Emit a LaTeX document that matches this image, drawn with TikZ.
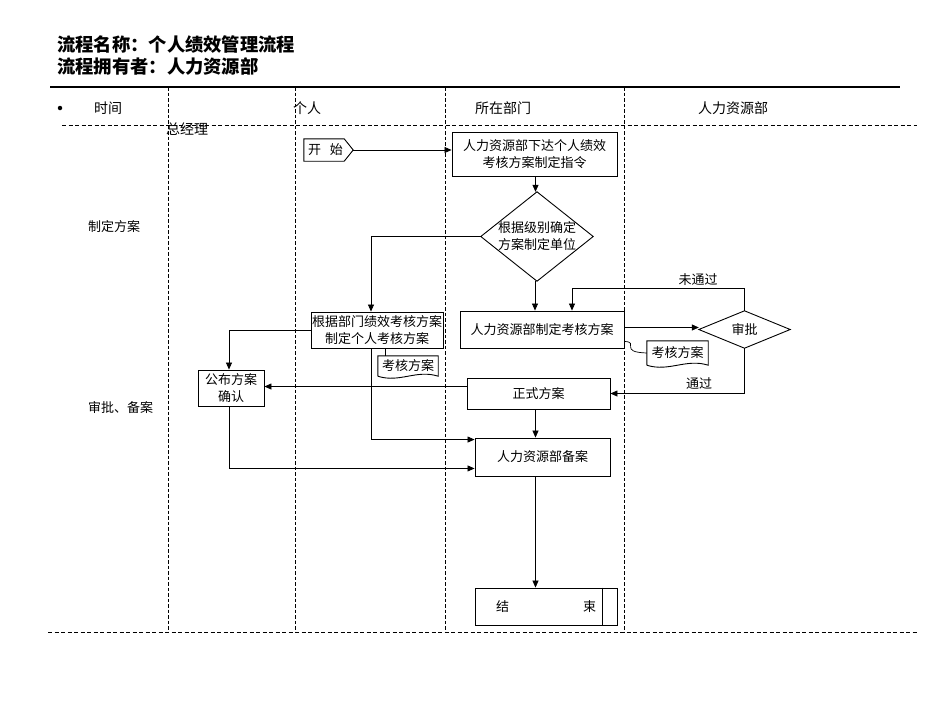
\documentclass[tikz,border=0pt]{standalone}
\usepackage{fontspec}
\setmainfont{Noto Sans CJK SC}
\usetikzlibrary{arrows.meta,calc}
\begin{document}
\begin{tikzpicture}[x=1pt,y=-1pt,
  box/.style={draw,line width=0.9pt,align=center,inner sep=0pt,font=\fontsize{13}{17}\selectfont},
  plain/.style={inner sep=0pt,align=center,font=\fontsize{13}{17}\selectfont},
  head/.style={inner sep=0pt,font=\fontsize{14}{16}\selectfont},
  side/.style={inner sep=0pt,anchor=west,font=\fontsize{13}{14}\selectfont},
  arr/.style={-{Triangle[length=7pt,width=6pt]},line width=0.7pt},
  ln/.style={line width=0.7pt},
  vdash/.style={dash pattern=on 3.5pt off 2pt,line width=0.7pt},
  hdash/.style={dash pattern=on 4pt off 2.5pt,line width=0.7pt}]
\useasboundingbox (0,0) rectangle (950,713);
% titles
\node[anchor=west,inner sep=0pt,font=\fontsize{18.3}{20}\selectfont\bfseries] (t1) at (57,45) {流程名称：个人绩效管理流程};
\node[anchor=west,inner sep=0pt,font=\fontsize{18.3}{20}\selectfont\bfseries] (t2) at (57,67) {流程拥有者：人力资源部};
\draw[line width=1.6pt] (50,87) -- (900,87);
% swimlane grid
\draw[vdash] (168,87) -- (168,632);
\draw[vdash] (295,87) -- (295,632);
\draw[vdash] (445,87) -- (445,632);
\draw[vdash] (624,87) -- (624,632);
\draw[hdash] (62,125) -- (917,125);
\draw[hdash] (48,632) -- (917,632);
% headers
\node[circle,fill,inner sep=0pt,minimum size=4.5pt] (bul) at (60,108) {};
\node[head] (h0) at (108,108) {时间};
\node[head] (h1) at (307,108) {个人};
\node[head] (h2) at (503,108) {所在部门};
\node[head] (h3) at (733,108) {人力资源部};
\node[head] (h4) at (187,129) {总经理};
\node[side] (s1) at (88,227) {制定方案};
\node[side] (s2) at (88,408) {审批、备案};
% start
\node[plain,minimum width=49pt,minimum height=22pt] (start) at (328.5,150) {开\hspace{9pt}始\hspace{6pt}};
\draw[line width=0.9pt] (start.north west) -- ([xshift=-9pt]start.north east) -- (start.east) -- ([xshift=-9pt]start.south east) -- (start.south west) -- cycle;
% boxes
\node[box,minimum width=165pt,minimum height=44pt] (b1) at (534.5,154) {人力资源部下达个人绩效\\考核方案制定指令};
\node[plain,minimum width=112pt,minimum height=89pt] (d1) at (537,236.5) {根据级别确定\\方案制定单位};
\draw[line width=0.9pt] (d1.north) -- (d1.east) -- (d1.south) -- (d1.west) -- cycle;
\node[box,minimum width=132pt,minimum height=36pt] (b2) at (377,330) {根据部门绩效考核方案\\制定个人考核方案};
\node[plain,minimum width=60pt,minimum height=20pt] (doc1) at (408,366) {考核方案};
\draw[line width=0.9pt] (doc1.south west) -- (doc1.north west) -- (doc1.north east) -- (doc1.south east)
  .. controls ([xshift=-22pt,yshift=7pt]doc1.south east) and ([xshift=22pt,yshift=-7pt]doc1.south west) .. (doc1.south west);
\node[box,minimum width=66pt,minimum height=36pt] (b4) at (231,388) {公布方案\\确认};
\node[box,minimum width=164pt,minimum height=37pt] (b3) at (542,329.5) {人力资源部制定考核方案};
\node[plain,minimum width=91pt,minimum height=37pt] (d2) at (744.5,329.5) {审批};
\draw[line width=0.9pt] (d2.north) -- (d2.east) -- (d2.south) -- (d2.west) -- cycle;
\node[plain,minimum width=61pt,minimum height=24pt] (doc2) at (677.5,353) {考核方案};
\draw[line width=0.9pt] (doc2.south west) -- (doc2.north west) -- (doc2.north east) -- (doc2.south east)
  .. controls ([xshift=-22pt,yshift=7pt]doc2.south east) and ([xshift=22pt,yshift=-7pt]doc2.south west) .. (doc2.south west);
\node[box,minimum width=143pt,minimum height=31pt] (b5) at (538.5,393.5) {正式方案};
\node[box,minimum width=135pt,minimum height=38pt] (b6) at (542.5,457) {人力资源部备案};
\node[box,minimum width=142pt,minimum height=37pt] (end) at (546,606.5) {结\hspace{74pt}束};
\draw[line width=0.9pt] ([xshift=-15pt]end.north east) -- ([xshift=-15pt]end.south east);
% labels
\node[plain] (nt) at (698,280) {未通过};
\node[plain] (ps) at (699,384) {通过};
% connectors
\draw[arr] (start.east) -- (start.east -| b1.west);
\draw[arr] ([xshift=1pt]b1.south) -- ([xshift=1pt]b1.south |- d1.north);
\draw[arr] (d1.west) -| ([xshift=-6pt]b2.north);
\draw[arr] ([xshift=-2pt]d1.south) -- ([xshift=-2pt]d1.south |- b3.north);
\draw[arr] (b2.west) -| ([xshift=-2pt]b4.north);
\draw[ln] ([xshift=8pt]b2.south) -- ([xshift=8pt]b2.south |- doc1.north);
\draw[arr] ([xshift=-6pt]b2.south) |- ([yshift=-2pt]b6.north west);
\draw[arr] ([xshift=-2pt]b4.south) |- ([yshift=8pt]b6.south west);
\draw[arr] ([yshift=2pt]b3.east) -- ([yshift=2pt]b3.east -| d2.west);
\draw[arr] (d2.north) -- ++(0,-22) -| ([xshift=30pt]b3.north);
\draw[arr] (d2.south) |- (b5.east);
\draw[ln] ([yshift=7pt]b3.south east) .. controls (640,342) and (618,352) .. (doc2.west);
\draw[arr] ([yshift=7pt]b5.west) -- ([yshift=7pt]b5.west -| b4.east);
\draw[arr] ([xshift=-3pt]b5.south) -- ([xshift=-3pt]b5.south |- b6.north);
\draw[arr] ([xshift=-7pt]b6.south) -- ([xshift=-7pt]b6.south |- end.north);
\end{tikzpicture}
\end{document}
